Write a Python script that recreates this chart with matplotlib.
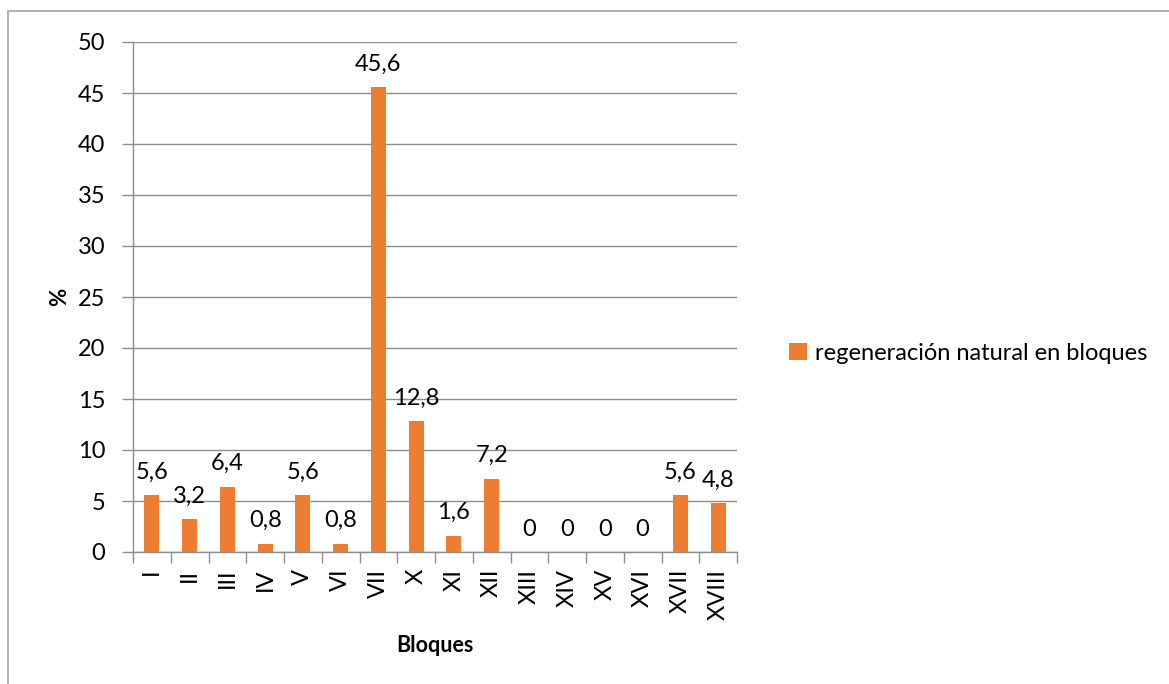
import matplotlib
matplotlib.use("Agg")
import matplotlib.pyplot as plt
from matplotlib.patches import Rectangle
import numpy as np

categories = ["I", "II", "III", "IV", "V", "VI", "VII", "X", "XI", "XII",
              "XIII", "XIV", "XV", "XVI", "XVII", "XVIII"]
values = [5.6, 3.2, 6.4, 0.8, 5.6, 0.8, 45.6, 12.8, 1.6, 7.2,
          0, 0, 0, 0, 5.6, 4.8]
series_name = "regeneración natural en bloques"
y_ticks = [0, 5, 10, 15, 20, 25, 30, 35, 40, 45, 50]

plt.rcParams["font.family"] = ["Lato", "DejaVu Sans"]

W, H = 1169, 684
FS = 17
fig = plt.figure(figsize=(W / 100, H / 100), dpi=100)

# outer chart frame
fig.patches.append(Rectangle((8 / W, -0.01), 1.2, (684 - 11) / H + 0.01,
                             transform=fig.transFigure, fill=False,
                             edgecolor="#a6a6a6", linewidth=1.2))

ax = fig.add_axes([133 / W, (H - 552) / H, (737 - 133) / W, (552 - 42) / H])
grid_c = "#8c8c8c"
x = np.arange(len(categories))
bars = ax.bar(x, values, width=0.4, color="#ED7D31", label=series_name, zorder=3)

ax.set_xlim(-0.5, len(categories) - 0.5)
ax.set_ylim(0, 50)
ax.set_yticks(y_ticks)
ax.set_yticklabels([str(v) for v in y_ticks], fontsize=FS)
ax.yaxis.grid(True, color=grid_c, linewidth=1, zorder=0)
ax.tick_params(axis="y", length=8, width=1, color=grid_c, pad=12)

ax.set_xticks(x)
ax.set_xticklabels(categories, rotation=90, fontsize=FS)
ax.tick_params(axis="x", length=0, pad=12)
ax.set_xticks(np.arange(len(categories) + 1) - 0.5, minor=True)
ax.tick_params(axis="x", which="minor", length=8, width=1, color=grid_c)

for side in ["top", "right"]:
    ax.spines[side].set_visible(False)
for side in ["left", "bottom"]:
    ax.spines[side].set_color(grid_c)
    ax.spines[side].set_linewidth(1)

for xi, v in zip(x, values):
    ax.annotate(f"{v:g}".replace(".", ","), (xi, v), xytext=(0, 9),
                textcoords="offset points", ha="center", va="bottom",
                fontsize=FS)

ax.set_xlabel("Bloques", fontsize=15.5, fontweight="bold")
ax.xaxis.set_label_coords(0.5, (552 - 645) / 510, transform=ax.transAxes)
ax.xaxis.label.set_va("center")
ax.set_ylabel("%", fontsize=16, fontweight="bold")
ax.yaxis.set_label_coords((60 - 133) / 604, 0.5, transform=ax.transAxes)
ax.yaxis.label.set_va("center")

leg = fig.legend(handles=[bars], labels=[series_name], loc="center left",
                 bbox_to_anchor=(768 / W, (H - 353) / H), frameon=False,
                 fontsize=FS, handlelength=0.75, handleheight=0.75,
                 handletextpad=0.35)

fig.savefig("out.png", dpi=100, facecolor="white")
